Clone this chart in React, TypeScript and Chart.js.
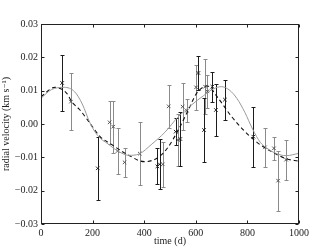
import React, { useEffect, useRef } from "react";
import { Chart, registerables } from "chart.js";

Chart.register(...registerables);

// Observations (black error bars)
const blackTimes = [82, 220, 451, 460, 522, 540, 610, 632, 664, 678, 713, 823];
const blackVel = [0.0123, -0.0133, -0.0127, -0.0121, -0.0023, -0.0045, 0.0153, -0.0018, 0.0112, 0.0042, 0.0073, -0.0038];
const blackErr = [0.0085, 0.0095, 0.0054, 0.0075, 0.004, 0.008, 0.005, 0.0095, 0.0045, 0.0078, 0.006, 0.009];

// Observations (grey error bars)
const grayTimes = [116, 266, 280, 297, 324, 383, 472, 495, 532, 549, 565, 601, 636, 645, 868, 903, 919, 950];
const grayVel = [0.0067, 0.0005, -0.0008, -0.0081, -0.0115, -0.0089, -0.0121, 0.0053, -0.0048, 0.0052, 0.004, 0.011, 0.0112, 0.0098, -0.007, -0.0073, -0.017, -0.0107];
const grayErr = [0.0086, 0.0065, 0.0078, 0.007, 0.0043, 0.0095, 0.0068, 0.0065, 0.0078, 0.007, 0.0035, 0.0067, 0.0083, 0.005, 0.0058, 0.0035, 0.009, 0.006];

// Model curve 1 (solid grey)
const solidTimes = [0, 40, 90, 130, 160, 190, 220, 260, 300, 340, 380, 430, 480, 530, 580, 630, 670, 700, 730, 760, 790, 820, 850, 880, 910, 950, 1000];
const solidVel = [0.0077, 0.0103, 0.011, 0.0097, 0.006, 0.0003, -0.0035, -0.006, -0.0082, -0.0094, -0.009, -0.006, -0.0025, 0.002, 0.0055, 0.0085, 0.0106, 0.0112, 0.0102, 0.0076, 0.0035, -0.0015, -0.0055, -0.0075, -0.0088, -0.0095, -0.0088];

// Model curve 2 (dashed black)
const dashTimes = [0, 54, 100, 119, 151, 190, 229, 267, 306, 338, 400, 455, 494, 532, 571, 603, 645, 687, 739, 791, 842, 894, 946, 1000];
const dashVel = [0.0082, 0.011, 0.0092, 0.0067, 0.0042, 0.0002, -0.0038, -0.0058, -0.0078, -0.0093, -0.0113, -0.01, -0.0068, -0.0018, 0.0042, 0.0092, 0.0114, 0.0077, 0.0022, -0.0023, -0.0058, -0.0083, -0.0103, -0.0112];

const xTickStep = 200;
const yTickStep = 0.01;
const xRange = [0, 1000];
const yRange = [-0.03, 0.03];
const xTitle = "time (d)";
const yTitle = "radial velocity (km s\u207B\u00B9)";

const BLACK = "#1c1c1c";
const GRAY = "#8a8a8a";

const pts = (xs: number[], ys: number[]) => xs.map((x, i) => ({ x, y: ys[i] }));

const errorBarPlugin = {
  id: "errorBars",
  beforeDatasetsDraw(chart: any) {
    const { ctx, chartArea } = chart;
    const xs = chart.scales.x;
    const ys = chart.scales.y;
    ctx.save();
    ctx.beginPath();
    ctx.rect(chartArea.left, chartArea.top, chartArea.right - chartArea.left, chartArea.bottom - chartArea.top);
    ctx.clip();
    const draw = (t: number[], v: number[], e: number[], color: string) => {
      ctx.strokeStyle = color;
      ctx.lineWidth = 1;
      t.forEach((tt, i) => {
        const px = Math.round(xs.getPixelForValue(tt)) + 0.5;
        const y1 = Math.round(ys.getPixelForValue(v[i] + e[i])) + 0.5;
        const y2 = Math.round(ys.getPixelForValue(v[i] - e[i])) + 0.5;
        ctx.beginPath();
        ctx.moveTo(px, y1);
        ctx.lineTo(px, y2);
        ctx.moveTo(px - 2, y1);
        ctx.lineTo(px + 2, y1);
        ctx.moveTo(px - 2, y2);
        ctx.lineTo(px + 2, y2);
        ctx.stroke();
      });
    };
    draw(grayTimes, grayVel, grayErr, GRAY);
    draw(blackTimes, blackVel, blackErr, BLACK);
    ctx.restore();
  },
  afterDraw(chart: any) {
    const { ctx, chartArea } = chart;
    const xs = chart.scales.x;
    const ys = chart.scales.y;
    ctx.save();
    ctx.strokeStyle = "#222";
    ctx.lineWidth = 1;
    const L = Math.round(chartArea.left) + 0.5;
    const R = Math.round(chartArea.right) - 0.5;
    const T = Math.round(chartArea.top) + 0.5;
    const B = Math.round(chartArea.bottom) - 0.5;
    ctx.strokeRect(L, T, R - L, B - T);
    const tl = 3;
    ctx.beginPath();
    xs.ticks.forEach((tk: any) => {
      const px = Math.round(xs.getPixelForValue(tk.value)) + 0.5;
      ctx.moveTo(px, B);
      ctx.lineTo(px, B - tl);
      ctx.moveTo(px, T);
      ctx.lineTo(px, T + tl);
    });
    ys.ticks.forEach((tk: any) => {
      const py = Math.round(ys.getPixelForValue(tk.value)) + 0.5;
      ctx.moveTo(L, py);
      ctx.lineTo(L + tl, py);
      ctx.moveTo(R, py);
      ctx.lineTo(R - tl, py);
    });
    ctx.stroke();
    ctx.restore();
  },
};

export default function App() {
  const ref = useRef<HTMLCanvasElement | null>(null);
  useEffect(() => {
    if (!ref.current) return;
    Chart.defaults.font.family = "'Liberation Serif', 'DejaVu Serif', serif";
    Chart.defaults.font.size = 10;
    Chart.defaults.color = "#222";
    const chart = new Chart(ref.current, {
      type: "scatter",
      data: {
        datasets: [
          {
            data: pts(solidTimes, solidVel),
            showLine: true,
            borderColor: "#9a9a9a",
            borderWidth: 1,
            pointRadius: 0,
            cubicInterpolationMode: "monotone",
          } as any,
          {
            data: pts(dashTimes, dashVel),
            showLine: true,
            borderColor: "#111",
            borderWidth: 1.1,
            borderDash: [4, 3],
            pointRadius: 0,
            cubicInterpolationMode: "monotone",
          } as any,
          {
            data: pts(grayTimes, grayVel),
            showLine: false,
            pointStyle: "crossRot",
            pointRadius: 2.5,
            borderWidth: 1,
            borderColor: "#555",
          } as any,
          {
            data: pts(blackTimes, blackVel),
            showLine: false,
            pointStyle: "crossRot",
            pointRadius: 2.5,
            borderWidth: 1,
            borderColor: "#222",
          } as any,
        ],
      },
      options: {
        animation: false,
        responsive: false,
        events: [],
        layout: { padding: { left: 0, right: 33, top: 24, bottom: 0 } },
        plugins: { legend: { display: false }, tooltip: { enabled: false } },
        scales: {
          x: {
            type: "linear",
            min: xRange[0],
            max: xRange[1],
            grid: { display: false, drawTicks: false },
            border: { display: false },
            ticks: {
              stepSize: xTickStep,
              padding: 3,
              maxRotation: 0,
              color: "#222",
              callback: (v: any) => String(Math.round(Number(v))),
            },
            title: { display: true, text: xTitle, padding: { top: 0, bottom: 2 }, color: "#222" },
            afterFit: (s: any) => {
              s.height = 25;
            },
          },
          y: {
            type: "linear",
            min: yRange[0],
            max: yRange[1],
            grid: { display: false, drawTicks: false },
            border: { display: false },
            ticks: {
              stepSize: yTickStep,
              padding: 3,
              color: "#222",
              callback: (v: any) => {
                const n = Number(v);
                if (Math.abs(n) < 1e-9) return "0.00";
                return n.toFixed(2).replace("-", "\u2212");
              },
            },
            title: { display: true, text: yTitle, padding: { top: 0, bottom: 0 }, color: "#222" },
            afterFit: (s: any) => {
              s.width = 41;
            },
          },
        },
      },
      plugins: [errorBarPlugin],
    });
    return () => chart.destroy();
  }, []);
  return (
    <div style={{ position: "fixed", left: 0, top: 0, width: 332, height: 249, background: "#fff" }}>
      <canvas ref={ref} width={332} height={249} style={{ display: "block" }} />
    </div>
  );
}
